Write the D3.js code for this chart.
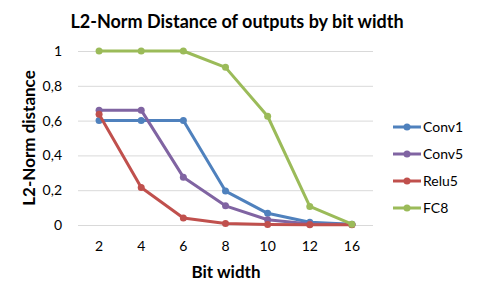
<!DOCTYPE html>
<html>
<head>
<meta charset="utf-8">
<script src="https://d3js.org/d3.v7.min.js"></script>
<style>
body { margin: 0; background: #fff; }
svg { display: block; font-family: Lato, "Open Sans", sans-serif; }
</style>
</head>
<body>
<svg id="chart" width="480" height="295"></svg>
<script>
// bit widths on the x axis
var bits = ["2", "4", "6", "8", "10", "12", "16"];
var yTicks = [0, 0.2, 0.4, 0.6, 0.8, 1];

var conv1 = [0.6, 0.6, 0.6, 0.195, 0.067, 0.016, 0.005];
var conv5 = [0.66, 0.66, 0.275, 0.11, 0.03, 0.006, 0.003];
var relu5 = [0.636, 0.216, 0.04, 0.008, 0.003, 0.002, 0.001];
var fc8   = [1, 1, 1, 0.906, 0.625, 0.107, 0.005];

var seriesNames = ["Conv1", "Conv5", "Relu5", "FC8"];
var seriesValues = [conv1, conv5, relu5, fc8];
var colors = ["#4f81bd", "#8064a2", "#c0504d", "#9bbb59"];

var svg = d3.select("#chart");

var x = d3.scaleBand()
    .domain(bits)
    .range([78, 373]);

var y = d3.scaleLinear()
    .domain([0, 1])
    .range([225, 51]);

// gridlines
svg.append("g")
  .selectAll("line")
  .data(yTicks)
  .enter().append("line")
    .attr("x1", 78)
    .attr("x2", 373)
    .attr("y1", function(d) { return y(d) + 0.5; })
    .attr("y2", function(d) { return y(d) + 0.5; })
    .style("stroke", "#d9d9d9")
    .style("stroke-width", 1);

// y tick labels
svg.append("g")
  .selectAll("text")
  .data(yTicks)
  .enter().append("text")
    .attr("x", 62)
    .attr("y", function(d) { return y(d); })
    .attr("dy", "0.35em")
    .attr("text-anchor", "end")
    .style("font-size", "14px")
    .style("fill", "#000")
    .text(function(d) { return d3.format("")(d).replace(".", ","); });

// x tick labels
svg.append("g")
  .selectAll("text")
  .data(bits)
  .enter().append("text")
    .attr("x", function(d) { return x(d) + x.bandwidth() / 2; })
    .attr("y", 251)
    .attr("text-anchor", "middle")
    .style("font-size", "14px")
    .style("fill", "#000")
    .text(function(d) { return d; });

// lines + markers
var line = d3.line()
    .x(function(d, i) { return x(bits[i]) + x.bandwidth() / 2; })
    .y(function(d) { return y(d); });

seriesValues.forEach(function(vals, k) {
  var g = svg.append("g");
  g.append("path")
    .datum(vals)
    .attr("d", line)
    .style("fill", "none")
    .style("stroke", colors[k])
    .style("stroke-width", 3)
    .style("stroke-linejoin", "round");
  g.selectAll("circle")
    .data(vals)
    .enter().append("circle")
      .attr("cx", function(d, i) { return x(bits[i]) + x.bandwidth() / 2; })
      .attr("cy", function(d) { return y(d); })
      .attr("r", 3.5)
      .style("fill", colors[k]);
});

// legend
var legend = svg.append("g")
  .selectAll("g")
  .data(seriesNames)
  .enter().append("g")
    .attr("transform", function(d, i) { return "translate(393," + (127 + i * 27) + ")"; });

legend.append("line")
    .attr("x1", 0).attr("x2", 28)
    .style("stroke", function(d, i) { return colors[i]; })
    .style("stroke-width", 3);
legend.append("circle")
    .attr("cx", 14).attr("r", 3.5)
    .style("fill", function(d, i) { return colors[i]; });
legend.append("text")
    .attr("x", 30)
    .attr("dy", "0.35em")
    .style("font-size", "14px")
    .text(function(d) { return d; });

// titles
svg.append("text")
    .attr("x", 237)
    .attr("y", 28)
    .attr("text-anchor", "middle")
    .style("font-size", "18px")
    .style("font-weight", "bold")
    .text("L2-Norm Distance of outputs by bit width");

svg.append("text")
    .attr("x", 226)
    .attr("y", 278)
    .attr("text-anchor", "middle")
    .style("font-size", "17px")
    .style("font-weight", "bold")
    .text("Bit width");

svg.append("text")
    .attr("transform", "translate(35,138) rotate(-90)")
    .attr("text-anchor", "middle")
    .style("font-size", "17px")
    .style("font-weight", "bold")
    .text("L2-Norm distance");
</script>
</body>
</html>
